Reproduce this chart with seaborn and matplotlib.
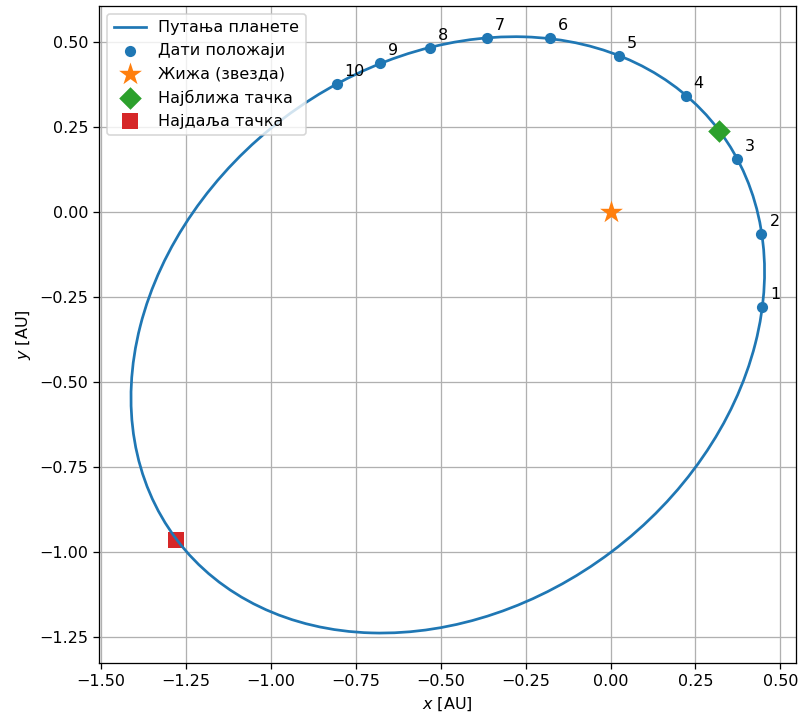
import numpy as np
import matplotlib
matplotlib.use("Agg")
import matplotlib.pyplot as plt
from matplotlib.patches import Ellipse
from matplotlib.lines import Line2D
import seaborn as sns

# Given positions of the planet
pos_x = [0.446, 0.444, 0.372, 0.221, 0.025, -0.178, -0.365, -0.531, -0.679, -0.806]
pos_y = [-0.278, -0.065, 0.157, 0.342, 0.460, 0.512, 0.514, 0.484, 0.438, 0.377]
pos_labels = ["1", "2", "3", "4", "5", "6", "7", "8", "9", "10"]

# Fitted orbit: semi-major axis, eccentricity, perihelion direction (deg)
semi_major = 1.0
eccentricity = 0.6
perihelion_angle = 37.0

star_xy = [0.0, 0.0]
closest_xy = [0.319, 0.240]
farthest_xy = [-1.279, -0.964]

fig = plt.figure(figsize=(800 / 115, 716 / 115), dpi=115)
ax = fig.add_axes([99 / 800, 53 / 716, 697 / 800, 657 / 716])

# Orbit ellipse (star sits in one focus)
w = np.deg2rad(perihelion_angle)
semi_minor = semi_major * np.sqrt(1 - eccentricity**2)
center = (-semi_major * eccentricity * np.cos(w), -semi_major * eccentricity * np.sin(w))
orbit = Ellipse(center, 2 * semi_major, 2 * semi_minor, angle=perihelion_angle,
                fill=False, edgecolor="C0", linewidth=1.7, zorder=2)
ax.add_patch(orbit)

sns.scatterplot(x=pos_x, y=pos_y, color="C0", s=49, linewidth=0,
                label="Дати положаји", ax=ax, zorder=3)
sns.scatterplot(x=[star_xy[0]], y=[star_xy[1]], color="C1", marker="*", s=225,
                linewidth=0, label="Жижа (звезда)", ax=ax, zorder=3)
sns.scatterplot(x=[closest_xy[0]], y=[closest_xy[1]], color="C2", marker="D", s=100,
                linewidth=0, label="Најближа тачка", ax=ax, zorder=3)
sns.scatterplot(x=[farthest_xy[0]], y=[farthest_xy[1]], color="C3", marker="s", s=100,
                linewidth=0, label="Најдаља тачка", ax=ax, zorder=1.5)

for px, py, lab in zip(pos_x, pos_y, pos_labels):
    ax.annotate(lab, (px, py), xytext=(5, 5), textcoords="offset points",
                fontsize=10)

ax.set_xlim(-1.505, 0.545)
ax.set_ylim(-1.327, 0.607)
ax.set_aspect("equal")
ax.grid(True)
ax.set_axisbelow(True)
ax.set_xlabel("$x$ [AU]")
ax.set_ylabel("$y$ [AU]")

handles, labels = ax.get_legend_handles_labels()
orbit_handle = Line2D([], [], color="C0", linewidth=1.7)
ax.legend([orbit_handle] + handles, ["Путања планете"] + labels, loc="upper left")

fig.savefig("out.png", dpi=115)
